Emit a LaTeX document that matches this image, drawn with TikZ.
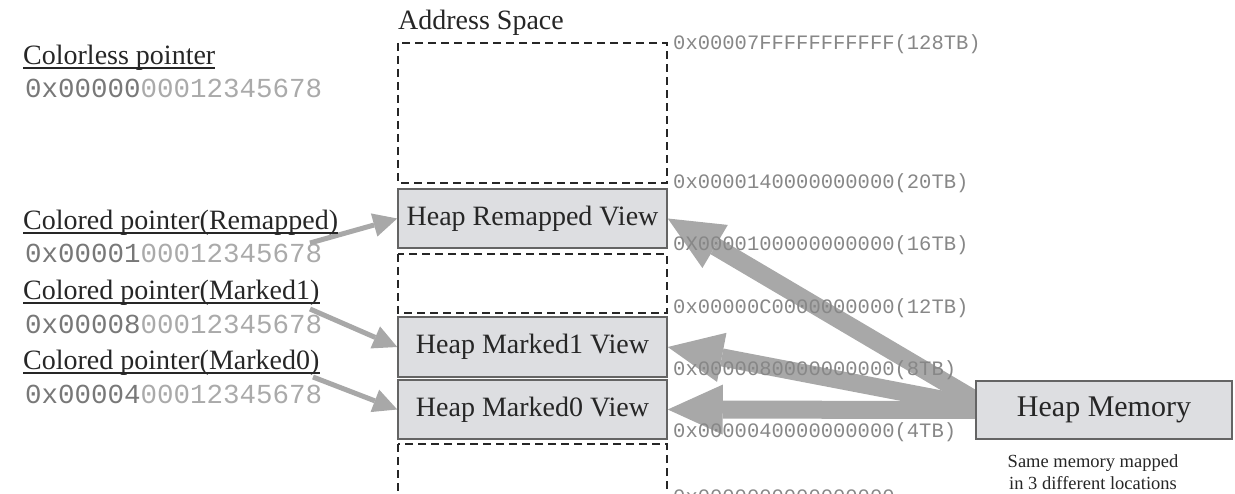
\documentclass[tikz,border=0pt]{standalone}
\usepackage{fontspec}
\setmainfont{Liberation Serif}
\setmonofont{Liberation Mono}
\usetikzlibrary{arrows.meta,calc,backgrounds}

\definecolor{hexdark}{RGB}{120,120,120}
\definecolor{hexlight}{RGB}{170,170,170}
\definecolor{addrgray}{RGB}{135,135,135}
\definecolor{arrowgray}{RGB}{168,168,168}
\definecolor{viewfill}{RGB}{221,222,225}
\definecolor{viewedge}{RGB}{100,100,100}

\newcommand{\hexptr}[2]{{\color{hexdark}#1}{\color{hexlight}#2}}

\begin{document}
\begin{tikzpicture}[x=1pt, y=-1pt,
  lbl/.style={anchor=base west, inner sep=0pt, text=black!85,
    font=\fontsize{28}{32}\selectfont},
  hexlbl/.style={anchor=base west, inner sep=0pt,
    font=\ttfamily\fontsize{27.5}{30}\selectfont},
  addr/.style={anchor=base west, inner sep=0pt, text=addrgray,
    font=\ttfamily\fontsize{20.5}{24}\selectfont},
  view/.style={draw=viewedge, line width=1.5pt, fill=viewfill,
    minimum width=269pt, minimum height=59pt, inner sep=0pt,
    text=black!85, font=\fontsize{28}{32}\selectfont},
  free/.style={draw=black!85, line width=1.2pt, dash pattern=on 8pt off 5pt},
  uline/.style={black!85, line width=1.5pt},
  note/.style={anchor=base, inner sep=0pt, align=center, text=black!85,
    font=\fontsize{18.5}{22}\selectfont},
  thin arrow/.style={arrowgray, line width=5pt,
    -{Triangle[width=24pt,length=24pt,line width=0pt]}},
  fat arrow/.style={arrowgray, line width=18pt,
    -{Triangle[width=50pt,length=55pt,line width=0pt]}}]

  \useasboundingbox (0,0) rectangle (1235,494);
  \clip (0,0) rectangle (1235,494);

  % address space column
  \node[lbl] (title) at (398,30) {Address Space};
  \draw[free] (398,43) rectangle (667,183);
  \node[view] (remapped) at (532.5,218.5) {Heap Remapped View};
  \draw[free] (398,254) rectangle (667,313);
  \node[view, minimum height=60pt] (marked1) at (532.5,347) {Heap Marked1 View};
  \node[view] (marked0) at (532.5,409.5) {Heap Marked0 View};
  \draw[free] (398,444) rectangle (667,540);

  % addresses
  \node[addr] (a128) at (673,50) {0x00007FFFFFFFFFFF(128TB)};
  \node[addr] (a20) at (673,189) {0x0000140000000000(20TB)};
  \node[addr] (a16) at (673,251) {0X0000100000000000(16TB)};
  \node[addr] (a12) at (673,314) {0x00000C0000000000(12TB)};
  \node[addr] (a8) at (673,376) {0x0000080000000000(8TB)};
  \node[addr] (a4) at (673,437) {0x0000040000000000(4TB)};
  \node[addr] (a0) at (673,503) {0x0000000000000000};

  % pointers
  \node[lbl] (colorless) at (23,65) {Colorless pointer};
  \node[hexlbl] (hexcolorless) at (25,98) {\hexptr{0x00000}{00012345678}};
  \node[lbl] (ptrremap) at (23,230) {Colored pointer(Remapped)};
  \node[hexlbl] (hexremap) at (25,263) {\hexptr{0x00001}{00012345678}};
  \node[lbl] (ptrmarked1) at (23,300) {Colored pointer(Marked1)};
  \node[hexlbl] (hexmarked1) at (25,334) {\hexptr{0x00008}{00012345678}};
  \node[lbl] (ptrmarked0) at (23,370) {Colored pointer(Marked0)};
  \node[hexlbl] (hexmarked0) at (25,403) {\hexptr{0x00004}{00012345678}};
  \foreach \p in {colorless,ptrremap,ptrmarked1,ptrmarked0}
    \draw[uline] ($(\p.base west)+(0,3)$) -- ($(\p.base east)+(0,3)$);

  % heap memory
  \node[view, minimum width=256pt, minimum height=58pt,
    font=\fontsize{30}{34}\selectfont] (heapmem) at (1104,410) {Heap Memory};
  \node[note] (note) at (1093,489) {Same memory mapped\\in 3 different locations};

  \begin{scope}[on background layer]
    \coordinate (remapfrom) at (310,243);
    \coordinate (marked1from) at (310,309);
    \coordinate (marked0from) at (313,377);
    \draw[thin arrow] (remapfrom) -- (remapped.west);
    \draw[thin arrow] (marked1from) -- (marked1.west);
    \draw[thin arrow] (marked0from) -- (marked0.west);
    \draw[fat arrow] ($(heapmem.west)+(0,-10)$) -- (remapped.east);
    \draw[fat arrow] ($(heapmem.west)+(0,-4)$) -- (marked1.east);
    \draw[fat arrow] (heapmem.west) -- (marked0.east);
  \end{scope}

\end{tikzpicture}
\end{document}
